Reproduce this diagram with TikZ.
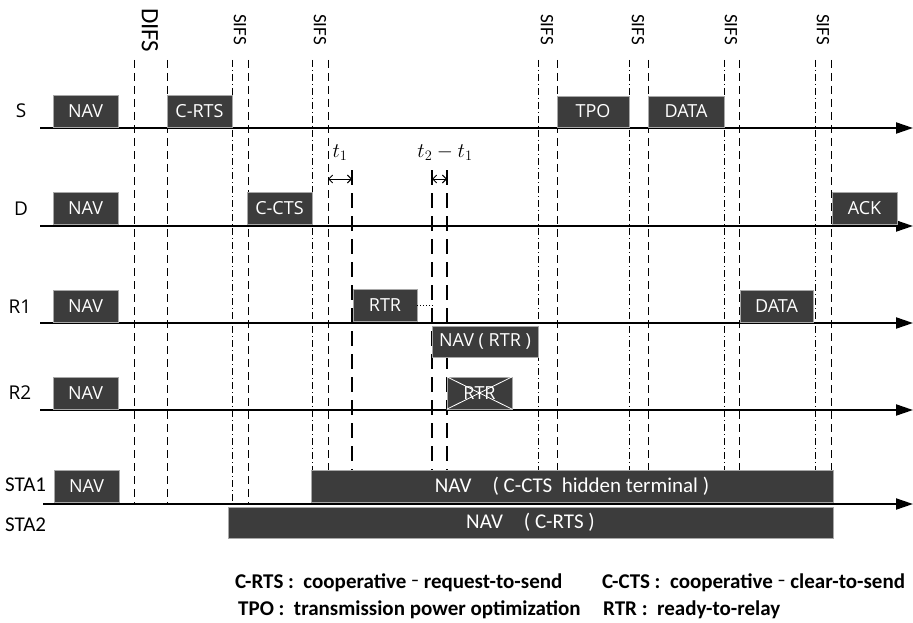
\documentclass[tikz,border=0pt]{standalone}
\usepackage{fontspec}
\setmainfont{Carlito}
\newfontfamily\boxfont{Open Sans}
\usetikzlibrary{arrows.meta}
\definecolor{boxfill}{HTML}{3C3C3C}
\definecolor{boxline}{HTML}{A8A8A8}
\newcommand{\tbox}[7][]{\node[box, #1, minimum width={(#5-#3)*1pt}, minimum height={(#6-#4)*1pt}] (#2) at ({(#3+#5)/2},{(#4+#6)/2}) {#7};}
\begin{document}
\begin{tikzpicture}[x=1pt,y=-1pt,
  box/.style={fill=boxfill, draw=boxline, line width=0.6pt, text=white, inner sep=0pt, font=\boxfont\fontsize{18}{20}\selectfont},
  stabox/.style={font=\fontsize{21}{24}\selectfont},
  axis/.style={line width=2pt, -{Triangle[length=17pt,width=11pt]}},
  ddot/.style={line width=0.8pt, dash pattern=on 7pt off 3pt on 1pt off 3pt},
  dsh/.style={line width=1pt, dash pattern=on 8pt off 5pt},
  ldsh/.style={line width=1.2pt, dash pattern=on 15pt off 8pt},
  rowlab/.style={font=\boxfont\fontsize{19}{20}\selectfont, anchor=base, inner sep=0pt},
  stalab/.style={font=\fontsize{21}{22}\selectfont, anchor=base west, inner sep=0pt},
  toplab/.style={rotate=-90, anchor=west, inner sep=0pt, font=\fontsize{19}{20}\selectfont},
  legtext/.style={anchor=base west, inner sep=0pt, font=\bfseries\fontsize{21}{23}\selectfont},
  tlab/.style={font=\fontsize{20}{22}\selectfont},
  tarrow/.style={{Straight Barb[length=4pt]}-{Straight Barb[length=4pt]}, line width=0.9pt}
]
\useasboundingbox (0,0) rectangle (913,623);
% vertical timing lines
\foreach \x in {134,167} \draw[dsh] (\x,60) -- (\x,503);
\draw[ddot] (232,60) -- (232,503);
\draw[dsh] (248,60) -- (248,503);
\foreach \x in {312,538,629,724,815} \draw[ddot] (\x,60) -- (\x,470);
\foreach \x in {328,557,648,739,831} \draw[dsh] (\x,60) -- (\x,470);
\foreach \x in {352,432,447} \draw[ldsh] (\x,170) -- (\x,470);
\coordinate (t1l) at (328,179);
\coordinate (t1r) at (352,179);
\coordinate (t2l) at (432,179);
\coordinate (t2r) at (447,179);
% axes
\coordinate (s0) at (40,128);  \coordinate (s1) at (913,128);
\coordinate (d0) at (40,226);  \coordinate (d1) at (913,226);
\coordinate (r10) at (40,323); \coordinate (r11) at (913,323);
\coordinate (r20) at (40,410); \coordinate (r21) at (913,410);
\coordinate (st0) at (43,504); \coordinate (st1) at (913,504);
\draw[axis] (s0) -- (s1);
\draw[axis] (d0) -- (d1);
\draw[axis] (r10) -- (r11);
\draw[axis] (r20) -- (r21);
\draw[axis] (st0) -- (st1);
% boxes
\tbox{snav}{53}{95}{118}{127}{NAV}
\tbox{crts}{167}{95}{232}{127}{C-RTS}
\tbox{tpo}{557}{96}{629}{127}{TPO}
\tbox{sdata}{648}{96}{724}{127}{DATA}
\tbox{dnav}{53}{192}{118}{224}{NAV}
\tbox{ccts}{247}{192}{312}{224}{C-CTS}
\tbox{ack}{832}{192}{897}{224}{ACK}
\tbox{r1nav}{53}{290}{118}{322}{NAV}
\tbox{rtr}{353}{289}{417}{321}{RTR}
\tbox{r1data}{740}{290}{813}{322}{DATA}
\tbox{navrtr}{432}{326}{538}{357}{NAV ( RTR )}
\tbox{r2nav}{53}{377}{118}{409}{NAV}
\tbox{rtrx}{447}{377}{512}{409}{RTR}
\tbox{sta1nav}{54}{470}{119}{502}{NAV}
\tbox[stabox]{sta1}{311}{470}{833}{502}{NAV\quad( C-CTS\ \ hidden terminal )}
\tbox[stabox]{sta2}{228}{507}{833}{538}{NAV\quad( C-RTS )}
\draw[white, line width=0.8pt] (rtrx.north west) -- (rtrx.south east);
\draw[white, line width=0.8pt] (rtrx.south west) -- (rtrx.north east);
\draw[dotted, line width=0.9pt] (rtr.east) -- (rtr.east -| t2l);
% t annotations
\draw[tarrow] (t1l) -- (t1r);
\draw[tarrow] (t2l) -- (t2r);
\node[tlab] (lt1) at (340,153) {$t_1$};
\node[tlab] (lt2) at (445,153) {$t_2-t_1$};
% row labels
\node[rowlab] (ls) at (21,118) {S};
\node[rowlab] (ld) at (21,215) {D};
\node[rowlab] (lr1) at (20,313) {R1};
\node[rowlab] (lr2) at (20,399) {R2};
\node[stalab] (lsta1) at (5,491) {STA1};
\node[stalab] (lsta2) at (5,531) {STA2};
% top labels
\node[toplab, font=\fontsize{25}{26}\selectfont] (ldifs) at (150,8) {DIFS};
\node[toplab] (lsifs1) at (240,14) {SIFS};
\node[toplab] (lsifs2) at (320,14) {SIFS};
\node[toplab] (lsifs3) at (547,14) {SIFS};
\node[toplab] (lsifs4) at (638,14) {SIFS};
\node[toplab] (lsifs5) at (731,14) {SIFS};
\node[toplab] (lsifs6) at (823,14) {SIFS};
% legend
\node[legtext] (g1) at (235,588) {C-RTS :\ \ cooperative \raisebox{3pt}{\fontsize{16}{16}\selectfont –} request-to-send};
\node[legtext] (g2) at (602,588) {C-CTS :\ \ cooperative \raisebox{3pt}{\fontsize{16}{16}\selectfont –} clear-to-send};
\node[legtext] (g3) at (238,615) {TPO :\ \ transmission power optimization};
\node[legtext] (g4) at (603,615) {RTR :\ \ ready-to-relay};
\end{tikzpicture}
\end{document}
